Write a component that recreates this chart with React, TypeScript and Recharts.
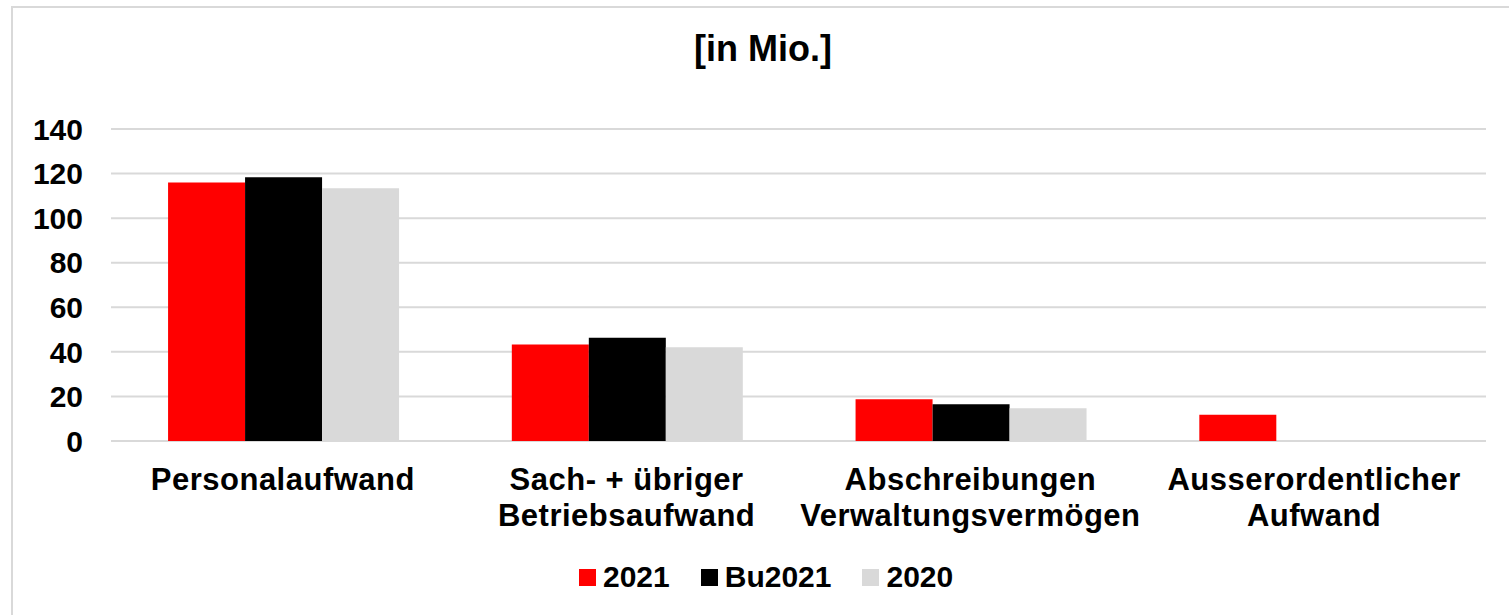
import React from "react";
import { BarChart, Bar, XAxis, YAxis, CartesianGrid } from "recharts";

const categories = [
  "Personalaufwand",
  "Sach- + übriger\nBetriebsaufwand",
  "Abschreibungen\nVerwaltungsvermögen",
  "Ausserordentlicher\nAufwand",
];
const values2021 = [116.0, 43.3, 18.7, 11.8];
const valuesBu2021 = [118.3, 46.3, 16.5, 0];
const values2020 = [113.4, 42.1, 14.7, 0];
const yTicks = [0, 20, 40, 60, 80, 100, 120, 140];

const SERIES = [
  { key: "y2021", name: "2021", color: "#ff0000" },
  { key: "bu2021", name: "Bu2021", color: "#000000" },
  { key: "y2020", name: "2020", color: "#d9d9d9" },
];

const FONT = '"Liberation Sans", Arial, sans-serif';

const data = categories.map((c, i) => ({
  name: c,
  y2021: values2021[i],
  bu2021: valuesBu2021[i],
  y2020: values2020[i],
}));

function CategoryTick(props: any) {
  const { x, y, payload } = props;
  const lines = String(payload.value).split("\n");
  return (
    <text
      x={x}
      y={y + 49}
      textAnchor="middle"
      fontFamily={FONT}
      fontWeight="bold"
      fontSize={31}
      letterSpacing={0.5}
      fill="#000"
    >
      {lines.map((l, i) => (
        <tspan key={i} x={x} dy={i === 0 ? 0 : 36}>
          {l}
        </tspan>
      ))}
    </text>
  );
}

export default function App() {
  return (
    <div
      style={{
        position: "absolute",
        left: 0,
        top: 0,
        width: 1509,
        height: 615,
        overflow: "hidden",
        background: "#fff",
        fontFamily: FONT,
      }}
    >
      <div
        style={{
          position: "absolute",
          left: 11,
          top: 6,
          width: 1600,
          height: 700,
          border: "2px solid #d9d9d9",
        }}
      />
      <div
        style={{
          position: "absolute",
          left: 563,
          width: 400,
          top: 31,
          textAlign: "center",
          fontSize: 36,
          lineHeight: "36px",
          fontWeight: "bold",
          color: "#000",
        }}
      >
        [in Mio.]
      </div>
      <div style={{ position: "absolute", left: 0, top: 0 }}>
        <BarChart
          width={1509}
          height={615}
          data={data}
          margin={{ top: 129, right: 23, bottom: 74, left: 0 }}
          barCategoryGap="16.6%"
          barGap={0}
        >
          <CartesianGrid vertical={false} stroke="#d9d9d9" strokeWidth={2} />
          <XAxis
            dataKey="name"
            height={100}
            axisLine={false}
            tickLine={false}
            tickSize={0}
            tickMargin={0}
            interval={0}
            tick={<CategoryTick />}
          />
          <YAxis
            width={111}
            domain={[0, 140]}
            ticks={yTicks}
            axisLine={false}
            tickLine={false}
            tickSize={0}
            tickMargin={28}
            tick={{ fontFamily: FONT, fontWeight: "bold", fontSize: 30, fill: "#000" }}
          />
          {SERIES.map((s) => (
            <Bar key={s.key} dataKey={s.key} name={s.name} fill={s.color} isAnimationActive={false} />
          ))}
        </BarChart>
      </div>
      <div
        style={{
          position: "absolute",
          left: 579,
          top: 562,
          display: "flex",
          alignItems: "center",
          fontSize: 30,
          lineHeight: "30px",
          fontWeight: "bold",
          color: "#000",
        }}
      >
        {SERIES.map((s, i) => (
          <div
            key={s.key}
            style={{ display: "flex", alignItems: "center", marginLeft: i === 0 ? 0 : 31 }}
          >
            <span style={{ width: 17, height: 17, background: s.color, marginRight: 7, display: "inline-block" }} />
            <span>{s.name}</span>
          </div>
        ))}
      </div>
    </div>
  );
}
